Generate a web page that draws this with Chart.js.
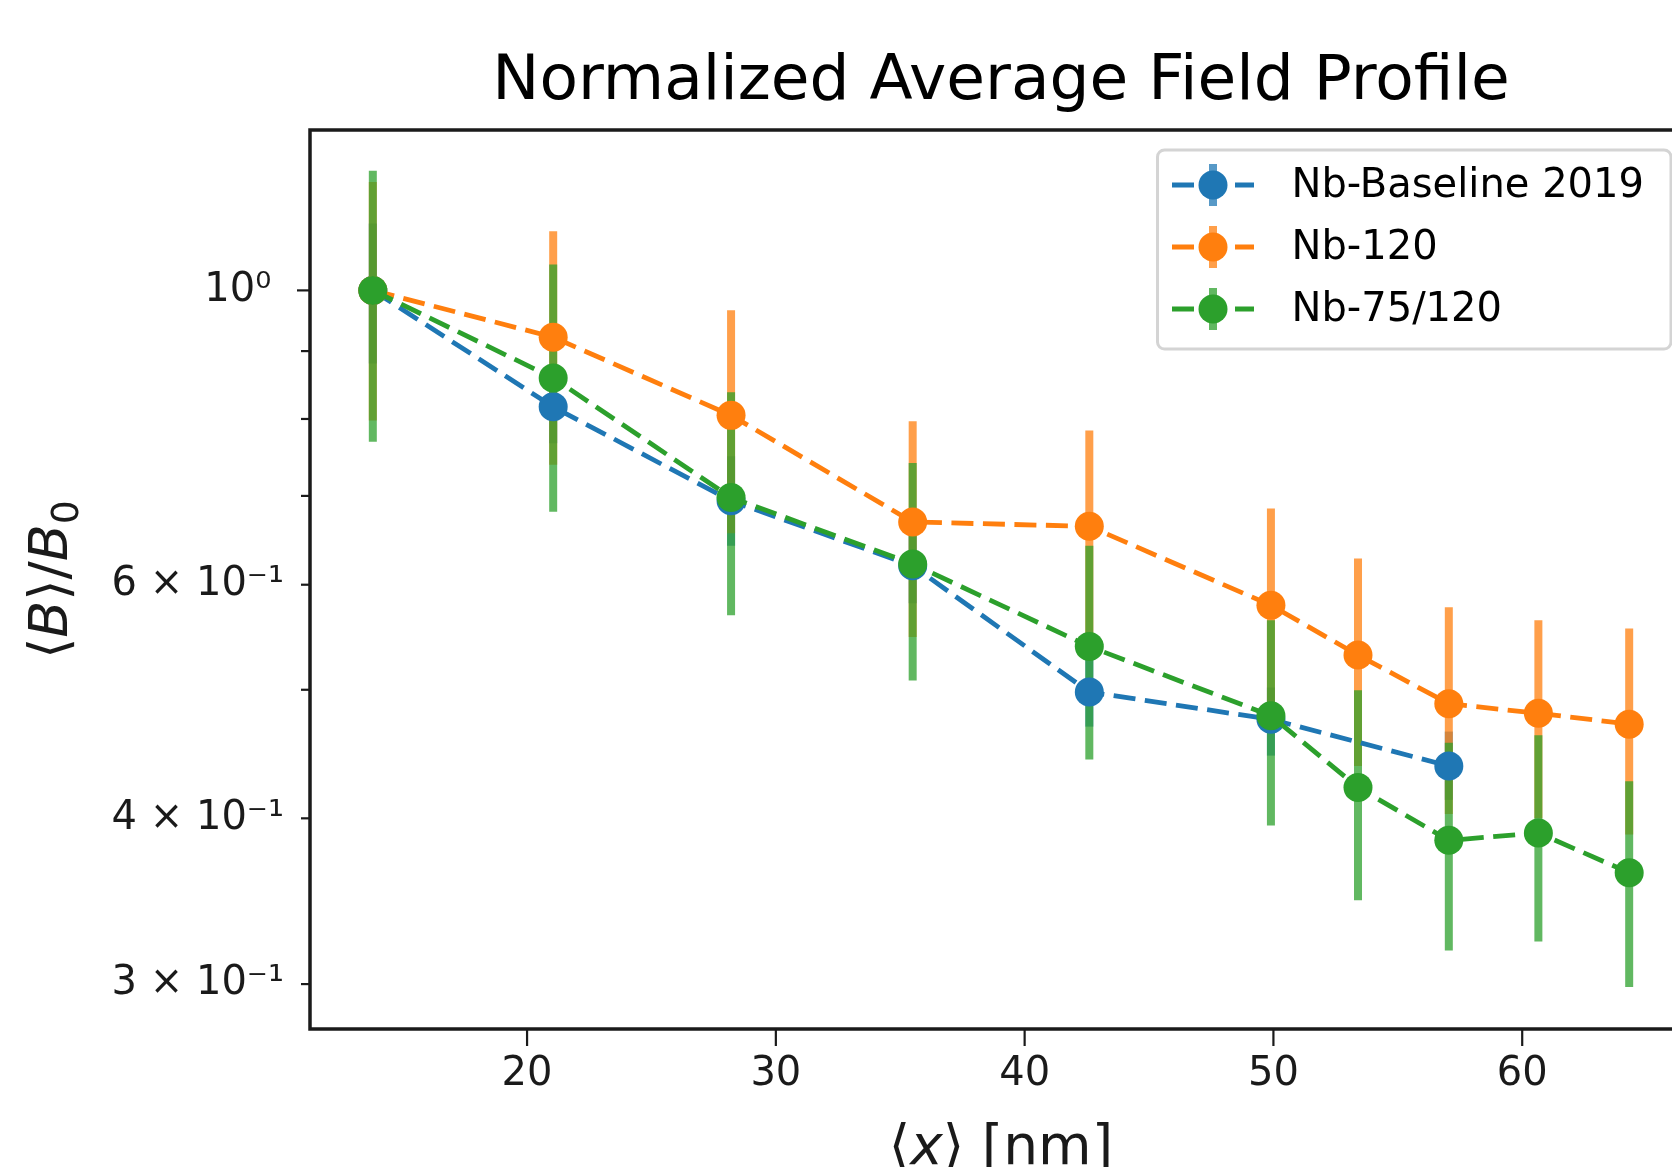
<!DOCTYPE html>
<html>
<head>
<meta charset="utf-8">
<title>Normalized Average Field Profile</title>
<script src="https://cdn.jsdelivr.net/npm/chart.js@4.4.1/dist/chart.umd.min.js"></script>
<style>
  html, body { margin: 0; padding: 0; background: #fff; overflow: hidden; }
  body { width: 1672px; height: 1167px; }
  #chart { display: block; }
</style>
</head>
<body>
<canvas id="chart" width="1712" height="1167"></canvas>
<script>
// --- Data ---
// Nb-Baseline 2019
const xBaseline = [13.8, 21.05, 28.2, 35.5, 42.6, 49.9, 57.05];
const yBaseline = [1.0, 0.817, 0.694, 0.620, 0.498, 0.475, 0.438];
const loBaseline = [0.881, 0.767, 0.642, 0.581, 0.469, 0.446, 0.413];
const hiBaseline = [1.123, 0.867, 0.750, 0.659, 0.529, 0.502, 0.465];

// Nb-120
const x120 = [13.8, 21.05, 28.2, 35.5, 42.6, 49.9, 53.4, 57.05, 60.65, 64.3];
const y120 = [1.0, 0.922, 0.805, 0.669, 0.664, 0.579, 0.531, 0.488, 0.480, 0.471];
const lo120 = [0.798, 0.739, 0.656, 0.548, 0.544, 0.473, 0.438, 0.403, 0.400, 0.389];
const hi120 = [1.207, 1.108, 0.966, 0.797, 0.784, 0.685, 0.628, 0.577, 0.564, 0.556];

// Nb-75/120
const x75 = [13.8, 21.05, 28.2, 35.5, 42.6, 49.9, 53.4, 57.05, 60.65, 64.3];
const y75 = [1.0, 0.859, 0.698, 0.622, 0.539, 0.478, 0.422, 0.385, 0.390, 0.364];
const lo75 = [0.769, 0.681, 0.569, 0.508, 0.443, 0.395, 0.347, 0.318, 0.323, 0.2985];
const hi75 = [1.231, 1.046, 0.838, 0.741, 0.642, 0.564, 0.4995, 0.456, 0.462, 0.4266];

// Axes
const xTicks = [20, 30, 40, 50, 60];
const xTickLabels = ['20', '30', '40', '50', '60'];
const yTicks = [0.3, 0.4, 0.5, 0.6, 0.7, 0.8, 0.9, 1.0];
const yTickLabels = ['3 × 10⁻¹', '4 × 10⁻¹', '', '6 × 10⁻¹', '', '', '', '10⁰ '];
const yMajor = [1.0];

const FONT = '"DejaVu Sans", "Liberation Sans", sans-serif';
const INK = '#1a1a1a';

// tab10 colours, error bars drawn at alpha 0.75
const series = [
    { label: 'Nb-Baseline 2019', xs: xBaseline, ys: yBaseline, lo: loBaseline, hi: hiBaseline,
      color: '#1f77b4', barColor: 'rgba(31,119,180,0.75)' },
    { label: 'Nb-120', xs: x120, ys: y120, lo: lo120, hi: hi120,
      color: '#ff7f0e', barColor: 'rgba(255,127,14,0.75)' },
    { label: 'Nb-75/120', xs: x75, ys: y75, lo: lo75, hi: hi75,
      color: '#2ca02c', barColor: 'rgba(44,160,44,0.75)' }
];

const DASH = [22, 9.5];
const LINE_W = 4.8;
const MARKER_R = 14.5;
const BAR_W = 8;

// --- error bars, under every line (matplotlib draws bar collections first) ---
const errorBars = {
    id: 'errorBars',
    beforeDatasetsDraw(chart) {
        const { ctx, chartArea: a, scales: { x, y } } = chart;
        ctx.save();
        ctx.beginPath();
        ctx.rect(a.left, a.top, a.right - a.left, a.bottom - a.top);
        ctx.clip();
        ctx.lineWidth = BAR_W;
        ctx.lineCap = 'butt';
        series.forEach(s => {
            ctx.strokeStyle = s.barColor;
            s.xs.forEach((xv, i) => {
                const px = x.getPixelForValue(xv);
                ctx.beginPath();
                ctx.moveTo(px, y.getPixelForValue(s.lo[i]));
                ctx.lineTo(px, y.getPixelForValue(s.hi[i]));
                ctx.stroke();
            });
        });
        ctx.restore();
    }
};

// draw a run of text pieces (some italic / subscript), centred on x
function drawRuns(ctx, runs, size, cx, baseY) {
    const pieces = runs.map(r => {
        const sz = r.sub ? size * 0.7 : size;
        const f = (r.italic ? 'italic ' : '') + sz + 'px ' + FONT;
        ctx.font = f;
        return { t: r.t, f, w: ctx.measureText(r.t).width, dy: r.sub ? size * 0.2 : 0 };
    });
    const total = pieces.reduce((s, p) => s + p.w, 0);
    let xPos = cx - total / 2;
    ctx.textAlign = 'left';
    ctx.textBaseline = 'alphabetic';
    pieces.forEach(p => {
        ctx.font = p.f;
        ctx.fillText(p.t, xPos, baseY + p.dy);
        xPos += p.w;
    });
}

// --- frame, ticks, axis titles, legend ---
const decorations = {
    id: 'decorations',
    afterDatasetsDraw(chart) {
        const { ctx, chartArea: a } = chart;
        ctx.save();
        ctx.strokeStyle = INK;
        ctx.lineWidth = 3.5;
        ctx.strokeRect(a.left, a.top, a.right - a.left, a.bottom - a.top);
        ctx.restore();
    },
    afterDraw(chart) {
        const { ctx, chartArea: a, scales: { x, y } } = chart;
        ctx.save();
        ctx.strokeStyle = INK;
        ctx.lineWidth = 2.2;
        xTicks.forEach(v => {
            const px = x.getPixelForValue(v);
            ctx.beginPath();
            ctx.moveTo(px, a.bottom);
            ctx.lineTo(px, a.bottom + 17);
            ctx.stroke();
        });
        yTicks.forEach(v => {
            const py = y.getPixelForValue(v);
            const len = yMajor.includes(v) ? 13 : 9;
            ctx.beginPath();
            ctx.moveTo(a.left, py);
            ctx.lineTo(a.left - len, py);
            ctx.stroke();
        });

        // axis titles
        ctx.fillStyle = INK;
        const cx = (a.left + a.right) / 2;
        drawRuns(ctx, [{ t: '⟨' }, { t: 'x', italic: true }, { t: '⟩' }, { t: ' [nm]' }], 55, cx, a.bottom + 135);

        ctx.save();
        ctx.translate(a.left - 243, (a.top + a.bottom) / 2);
        ctx.rotate(-Math.PI / 2);
        drawRuns(ctx, [{ t: '⟨' }, { t: 'B', italic: true }, { t: '⟩' }, { t: '/' },
                       { t: 'B', italic: true }, { t: '0', sub: true }], 54, 0, 0);
        ctx.restore();

        // legend box (upper right, inside the axes)
        const w = 513.5, h = 199;
        const left = a.right - 21 - w, top = a.top + 20;
        ctx.beginPath();
        if (ctx.roundRect) ctx.roundRect(left, top, w, h, 7);
        else ctx.rect(left, top, w, h);
        ctx.fillStyle = 'rgba(255,255,255,0.8)';
        ctx.fill();
        ctx.strokeStyle = '#d4d4d4';
        ctx.lineWidth = 3;
        ctx.stroke();

        series.forEach((s, i) => {
            const cy = top + 35 + i * 62;
            const x0 = left + 14.5, x1 = left + 96.5, mx = left + 55.5;
            ctx.setLineDash(DASH);
            ctx.lineWidth = LINE_W;
            ctx.strokeStyle = s.color;
            ctx.beginPath();
            ctx.moveTo(x0, cy);
            ctx.lineTo(x1, cy);
            ctx.stroke();
            ctx.setLineDash([]);
            ctx.strokeStyle = s.barColor;
            ctx.lineWidth = BAR_W;
            ctx.beginPath();
            ctx.moveTo(mx, cy - 21);
            ctx.lineTo(mx, cy + 21);
            ctx.stroke();
            ctx.fillStyle = s.color;
            ctx.beginPath();
            ctx.arc(mx, cy, MARKER_R, 0, Math.PI * 2);
            ctx.fill();
            ctx.fillStyle = '#000';
            ctx.font = '40px ' + FONT;
            ctx.textAlign = 'left';
            ctx.textBaseline = 'middle';
            ctx.fillText(s.label, left + 134, cy + 2);
        });
        ctx.restore();
    }
};

const datasets = series.map((s, i) => ({
    label: s.label,
    data: s.xs.map((xv, j) => ({ x: xv, y: s.ys[j] })),
    showLine: true,
    borderColor: s.color,
    backgroundColor: s.color,
    borderWidth: LINE_W,
    borderDash: DASH,
    borderCapStyle: 'butt',
    tension: 0,
    pointRadius: MARKER_R,
    pointHoverRadius: MARKER_R,
    pointBorderWidth: 0,
    pointBackgroundColor: s.color,
    order: series.length - 1 - i   // later series drawn on top
}));

const tickFont = { family: FONT, size: 40 };

const chart = new Chart(document.getElementById('chart'), {
    type: 'scatter',
    data: { datasets },
    options: {
        responsive: false,
        animation: false,
        devicePixelRatio: 1,
        layout: { padding: { left: 0, right: 20, top: 0, bottom: 0 } },
        plugins: {
            legend: { display: false },
            tooltip: { enabled: false },
            title: {
                display: true,
                text: 'Normalized Average Field Profile',
                fullSize: false,
                color: '#000',
                font: { family: FONT, size: 63, weight: 'normal', lineHeight: 1.2 },
                padding: { top: 45, bottom: 9.4 }
            }
        },
        scales: {
            x: {
                type: 'linear',
                min: 11.275,
                max: 66.825,
                afterFit: s => { s.height = 138; },
                afterBuildTicks: s => { s.ticks = xTicks.map(v => ({ value: v })); },
                grid: { display: false, drawTicks: false },
                border: { display: false },
                ticks: {
                    autoSkip: false,
                    maxRotation: 0,
                    padding: 22,
                    color: INK,
                    font: tickFont,
                    callback: v => { const k = xTicks.indexOf(v); return k >= 0 ? xTickLabels[k] : ''; }
                }
            },
            y: {
                type: 'logarithmic',
                min: 0.2775,
                max: 1.321,
                afterFit: s => { s.width = 310; },
                afterBuildTicks: s => { s.ticks = yTicks.map(v => ({ value: v })); },
                grid: { display: false, drawTicks: false },
                border: { display: false },
                ticks: {
                    autoSkip: false,
                    padding: 26,
                    color: INK,
                    font: tickFont,
                    callback: v => {
                        const k = yTicks.findIndex(t => Math.abs(t - v) < 1e-9);
                        return k >= 0 ? yTickLabels[k] : '';
                    }
                }
            }
        }
    },
    plugins: [errorBars, decorations]
});
</script>
</body>
</html>
